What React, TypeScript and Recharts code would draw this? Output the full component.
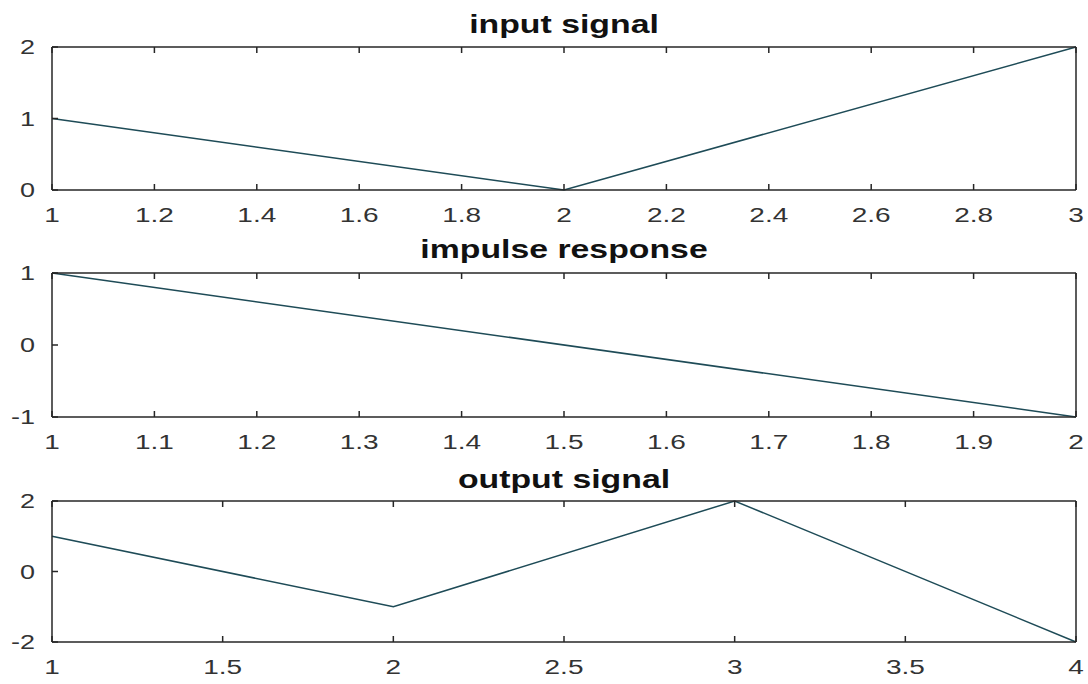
import React from "react";
import { LineChart, Line, XAxis, YAxis } from "recharts";

// signal values
const inputX = [1, 2, 3];
const inputY = [1, 0, 2];
const impulseX = [1, 2];
const impulseY = [1, -1];
const outputX = [1, 2, 3, 4];
const outputY = [1, -1, 2, -2];

// tick labels
const inputXTicks = [1, 1.2, 1.4, 1.6, 1.8, 2, 2.2, 2.4, 2.6, 2.8, 3];
const inputYTicks = [0, 1, 2];
const impulseXTicks = [1, 1.1, 1.2, 1.3, 1.4, 1.5, 1.6, 1.7, 1.8, 1.9, 2];
const impulseYTicks = [-1, 0, 1];
const outputXTicks = [1, 1.5, 2, 2.5, 3, 3.5, 4];
const outputYTicks = [-2, 0, 2];

const titles = ["input signal", "impulse response", "output signal"];

const AXIS = "#262626";
const LINE = "#1e4b57";
const FONT = "'Liberation Sans', Arial, sans-serif";
const TICK = 6;
const LEFT = 52;
const RIGHT = 1076;

type PanelProps = {
  xs: number[];
  ys: number[];
  xTicks: number[];
  yTicks: number[];
  top: number;
  height: number;
  marginTop: number;
  axisHeight: number;
};

function Panel({ xs, ys, xTicks, yTicks, top, height, marginTop, axisHeight }: PanelProps) {
  const data = xs.map((x, i) => ({ x, y: ys[i] }));
  const xDomain = [xTicks[0], xTicks[xTicks.length - 1]];
  const yDomain = [yTicks[0], yTicks[yTicks.length - 1]];
  const plotTop = marginTop;
  const plotBottom = height - axisHeight;

  const BottomTick = (props: any) => {
    const { x, payload } = props;
    return (
      <g>
        <line x1={x} y1={plotBottom} x2={x} y2={plotBottom - TICK} stroke={AXIS} strokeWidth={1.5} />
        <text
          transform={`translate(${x},${plotBottom + 32}) scale(1.4,1)`}
          textAnchor="middle"
          fontSize={20}
          fontFamily={FONT}
          fill="#333"
        >
          {String(payload.value)}
        </text>
      </g>
    );
  };

  const TopTick = (props: any) => {
    const { x } = props;
    return <line x1={x} y1={plotTop} x2={x} y2={plotTop + TICK} stroke={AXIS} strokeWidth={1.5} />;
  };

  const LeftTick = (props: any) => {
    const { y, payload } = props;
    return (
      <g>
        <line x1={LEFT} y1={y} x2={LEFT + TICK} y2={y} stroke={AXIS} strokeWidth={1.5} />
        <text
          transform={`translate(${LEFT - 17},${y + 7}) scale(1.35,1)`}
          textAnchor="end"
          fontSize={20}
          fontFamily={FONT}
          fill="#333"
        >
          {String(payload.value)}
        </text>
      </g>
    );
  };

  const RightTick = (props: any) => {
    const { y } = props;
    return <line x1={RIGHT} y1={y} x2={RIGHT - TICK} y2={y} stroke={AXIS} strokeWidth={1.5} />;
  };

  return (
    <div style={{ position: "absolute", left: 0, top }}>
      <LineChart
        width={1088}
        height={height}
        data={data}
        margin={{ top: marginTop - 1, right: 1088 - RIGHT - 1, left: 0, bottom: 0 }}
      >
        <XAxis
          xAxisId="b"
          dataKey="x"
          type="number"
          domain={xDomain}
          ticks={xTicks}
          height={axisHeight}
          tickLine={false}
          axisLine={{ stroke: AXIS, strokeWidth: 1.5 }}
          tick={BottomTick}
          interval={0}
        />
        <XAxis
          xAxisId="t"
          orientation="top"
          dataKey="x"
          type="number"
          domain={xDomain}
          ticks={xTicks}
          height={1}
          tickLine={false}
          axisLine={{ stroke: AXIS, strokeWidth: 1.5 }}
          tick={TopTick}
          interval={0}
        />
        <YAxis
          yAxisId="l"
          type="number"
          domain={yDomain}
          ticks={yTicks}
          width={LEFT}
          tickLine={false}
          axisLine={{ stroke: AXIS, strokeWidth: 1.5 }}
          tick={LeftTick}
          interval={0}
        />
        <YAxis
          yAxisId="r"
          orientation="right"
          type="number"
          domain={yDomain}
          ticks={yTicks}
          width={1}
          tickLine={false}
          axisLine={{ stroke: AXIS, strokeWidth: 1.5 }}
          tick={RightTick}
          interval={0}
        />
        <Line
          xAxisId="b"
          yAxisId="l"
          type="linear"
          dataKey="y"
          stroke={LINE}
          strokeWidth={1.5}
          dot={false}
          isAnimationActive={false}
        />
      </LineChart>
    </div>
  );
}

const Title = ({ text, top }: { text: string; top: number }) => (
  <div
    style={{
      position: "absolute",
      left: 564,
      top,
      transform: "translateX(-50%) scaleX(1.3)",
      fontFamily: FONT,
      fontWeight: "bold",
      fontSize: 26,
      lineHeight: "26px",
      color: "#111",
      whiteSpace: "nowrap",
    }}
  >
    {text}
  </div>
);

export default function App() {
  return (
    <div
      style={{
        position: "absolute",
        left: 0,
        top: 0,
        width: 1088,
        height: 684,
        background: "#fff",
      }}
    >
      <Panel xs={inputX} ys={inputY} xTicks={inputXTicks} yTicks={inputYTicks} top={0} height={230} marginTop={47} axisHeight={40} />
      <Panel xs={impulseX} ys={impulseY} xTicks={impulseXTicks} yTicks={impulseYTicks} top={230} height={228} marginTop={43} axisHeight={41} />
      <Panel xs={outputX} ys={outputY} xTicks={outputXTicks} yTicks={outputYTicks} top={458} height={226} marginTop={43} axisHeight={42} />
      <Title text={titles[0]} top={11} />
      <Title text={titles[1]} top={236} />
      <Title text={titles[2]} top={466} />
    </div>
  );
}
